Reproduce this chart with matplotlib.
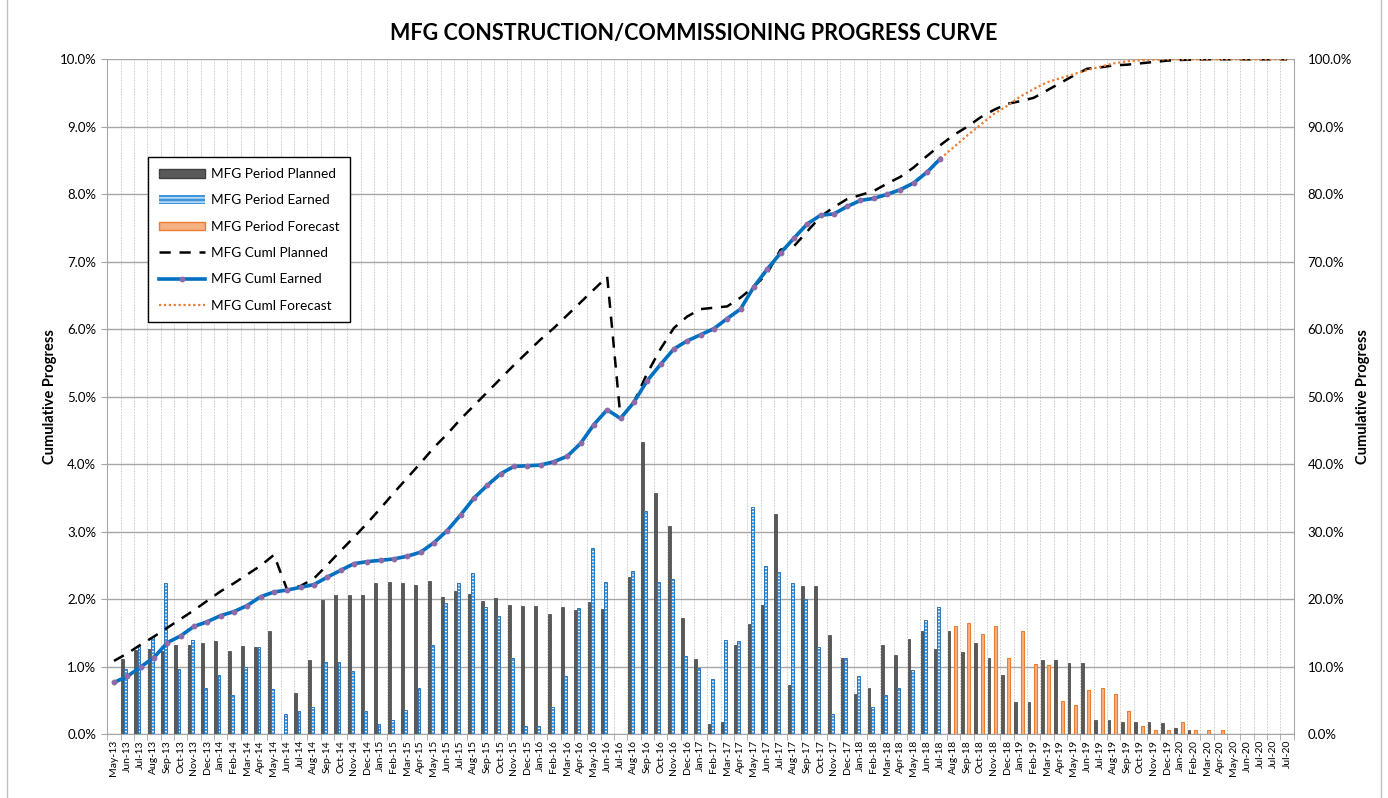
import numpy as np
import matplotlib.pyplot as plt
from matplotlib.patches import Patch, Rectangle
from matplotlib.lines import Line2D

plt.rcParams['font.family'] = ['Lato', 'DejaVu Sans']
plt.rcParams['hatch.linewidth'] = 0.8

# month categories (last three are repeated in the source sheet)
months = ['May-13', 'Jun-13', 'Jul-13', 'Aug-13', 'Sep-13', 'Oct-13', 'Nov-13', 'Dec-13',
          'Jan-14', 'Feb-14', 'Mar-14', 'Apr-14', 'May-14', 'Jun-14', 'Jul-14', 'Aug-14',
          'Sep-14', 'Oct-14', 'Nov-14', 'Dec-14', 'Jan-15', 'Feb-15', 'Mar-15', 'Apr-15',
          'May-15', 'Jun-15', 'Jul-15', 'Aug-15', 'Sep-15', 'Oct-15', 'Nov-15', 'Dec-15',
          'Jan-16', 'Feb-16', 'Mar-16', 'Apr-16', 'May-16', 'Jun-16', 'Jul-16', 'Aug-16',
          'Sep-16', 'Oct-16', 'Nov-16', 'Dec-16', 'Jan-17', 'Feb-17', 'Mar-17', 'Apr-17',
          'May-17', 'Jun-17', 'Jul-17', 'Aug-17', 'Sep-17', 'Oct-17', 'Nov-17', 'Dec-17',
          'Jan-18', 'Feb-18', 'Mar-18', 'Apr-18', 'May-18', 'Jun-18', 'Jul-18', 'Aug-18',
          'Sep-18', 'Oct-18', 'Nov-18', 'Dec-18', 'Jan-19', 'Feb-19', 'Mar-19', 'Apr-19',
          'May-19', 'Jun-19', 'Jul-19', 'Aug-19', 'Sep-19', 'Oct-19', 'Nov-19', 'Dec-19',
          'Jan-20', 'Feb-20', 'Mar-20', 'Apr-20', 'May-20', 'Jun-20', 'Jul-20', 'Jul-20',
          'Jul-20']

# period values, % per month (left axis)
period_planned = [0, 1.12, 1.25, 1.27, 1.24, 1.33, 1.32, 1.36, 1.39, 1.23, 1.31, 1.30, 1.54,
                  0, 0.61, 1.10, 1.99, 2.06, 2.06, 2.06, 2.24, 2.26, 2.24, 2.22, 2.28, 2.04,
                  2.13, 2.08, 1.98, 2.02, 1.92, 1.91, 1.91, 1.78, 1.89, 1.84, 1.96, 1.86, 0,
                  2.33, 4.33, 3.58, 3.09, 1.72, 1.12, 0.16, 0.19, 1.33, 1.64, 1.92, 3.26, 0.73,
                  2.20, 2.20, 1.48, 1.13, 0.60, 0.69, 1.33, 1.18, 1.42, 1.54, 1.26, 1.54, 1.22,
                  1.35, 1.13, 0.88, 0.48, 0.48, 1.11, 1.11, 1.06, 1.06, 0.22, 0.22, 0.19, 0.19,
                  0.19, 0.17, 0.10, 0.07, 0.01, 0.01, 0.005, 0, 0, 0, 0]
period_earned = [0, 0.97, 1.31, 1.44, 2.25, 0.97, 1.40, 0.69, 0.88, 0.59, 1.00, 1.29, 0.68,
                 0.31, 0.35, 0.40, 1.07, 1.08, 0.94, 0.35, 0.15, 0.21, 0.36, 0.69, 1.33, 1.95,
                 2.24, 2.39, 1.89, 1.76, 1.13, 0.13, 0.13, 0.40, 0.87, 1.87, 2.76, 2.26, 0,
                 2.42, 3.31, 2.26, 2.30, 1.16, 0.99, 0.82, 1.40, 1.39, 3.37, 2.50, 2.41, 2.25,
                 2.01, 1.30, 0.30, 1.13, 0.87, 0.40, 0.59, 0.69, 0.95, 1.69, 1.89]
period_forecast = [1.60, 1.65, 1.49, 1.60, 1.13, 1.54, 1.05, 1.03, 0.50, 0.44, 0.66, 0.69,
                   0.60, 0.35, 0.13, 0.07, 0.07, 0.19, 0.07, 0.07, 0.07]   # Aug-18 .. Apr-20

# cumulative values, % (right axis)
cum_planned = [10.9, 12.0, 13.3, 14.5, 15.8, 17.1, 18.4, 19.8, 21.2, 22.4, 23.7, 25.0, 26.6,
               21.4, 22.0, 23.1, 25.1, 27.2, 29.2, 31.3, 33.5, 35.8, 38.0, 40.2, 42.5, 44.5,
               46.7, 48.7, 50.7, 52.7, 54.7, 56.6, 58.5, 60.2, 62.1, 64.0, 65.9, 67.8, 46.9,
               49.2, 53.5, 57.1, 60.2, 61.9, 63.0, 63.2, 63.4, 64.7, 66.3, 68.3, 71.8, 72.3,
               74.5, 76.7, 78.1, 79.3, 79.9, 80.5, 81.6, 82.6, 84.0, 85.7, 87.3, 88.8, 90.0,
               91.4, 92.5, 93.4, 93.8, 94.3, 95.4, 96.5, 97.6, 98.6, 98.8, 99.1, 99.2, 99.4,
               99.6, 99.8, 99.9, 99.95, 100, 100, 100, 100, 100, 100, 100]
cum_earned = [7.7, 8.6, 10.0, 11.4, 13.6, 14.6, 16.0, 16.7, 17.6, 18.2, 19.1, 20.4, 21.1,
              21.4, 21.8, 22.2, 23.3, 24.3, 25.3, 25.6, 25.8, 26.0, 26.4, 27.0, 28.4, 30.2,
              32.5, 35.0, 36.9, 38.6, 39.7, 39.8, 39.9, 40.4, 41.2, 43.1, 45.9, 48.1, 46.8,
              49.2, 52.4, 54.8, 57.1, 58.3, 59.2, 60.1, 61.6, 63.0, 66.3, 68.9, 71.3, 73.5,
              75.6, 76.9, 77.1, 78.2, 79.1, 79.4, 80.0, 80.7, 81.7, 83.3, 85.3]
cum_forecast = [85.3, 87.0, 88.7, 90.3, 91.9, 93.1, 94.5, 95.6, 96.6, 97.2, 97.8, 98.4, 98.9,
                99.4, 99.7, 99.85, 99.95, 100, 100, 100, 100, 100, 100, 100, 100, 100, 100]  # Jul-18 on

n = len(months)
x = np.arange(n)
x_earned = x[:len(period_earned)]
x_fc = x[63:63 + len(period_forecast)]
x_cum_fc = x[62:62 + len(cum_forecast)]

fig = plt.figure(figsize=(13.88, 7.98), dpi=100)
ax = fig.add_axes([0.0773, 0.0796, 0.8548, 0.8461])
ax2 = ax.twinx()

w = 0.22
ax.bar(x - 0.36, period_planned, w, color='#595959', edgecolor='#404040', linewidth=0.5, zorder=3)
ax.bar(x_earned - 0.12, period_earned, w, color='#3d95dd', edgecolor='white', hatch='-----',
       linewidth=0, zorder=3)
ax.bar(x_earned - 0.12, period_earned, w, fill=False, edgecolor='#2e75b6', linewidth=0.7, zorder=4)
ax.bar(x_fc + 0.13, period_forecast, w, color='#f4b183', edgecolor='#ed7d31', linewidth=0.8, zorder=3)

ax2.plot(x, cum_planned, color='black', linestyle=(0, (4.5, 3.5)), linewidth=1.8, zorder=5)
ax2.plot(x_cum_fc, cum_forecast, color='#ed7d31', linestyle=(0, (1, 1.2)), linewidth=1.6, zorder=5)
ax2.plot(x_earned, cum_earned, color='#0070c0', linewidth=2.6, marker='o', markersize=3.2,
         markerfacecolor='#8f6aa8', markeredgecolor='#8f6aa8', zorder=6)

# axes and grid
ax.set_xlim(-0.5, n - 0.5)
ax.set_ylim(0, 10)
ax2.set_ylim(0, 100)
ax.set_yticks(np.arange(0, 10.1, 1))
ax.set_yticklabels(['%.1f%%' % v for v in np.arange(0, 10.1, 1)], fontsize=9.5)
ax2.set_yticks(np.arange(0, 101, 10))
ax2.set_yticklabels(['%.1f%%' % v for v in np.arange(0, 101, 10)], fontsize=9.5)
ax.set_xticks(x)
ax.set_xticklabels(months, rotation=90, fontsize=7.5)
ax.set_xticks(np.arange(-0.5, n, 1), minor=True)
ax.tick_params(axis='x', which='major', length=0, pad=4)
ax.tick_params(axis='x', which='minor', length=4, color='#a6a6a6')
ax.tick_params(axis='y', length=4, color='#a6a6a6', pad=4)
ax2.tick_params(axis='y', length=0, pad=10)
ax.grid(axis='y', which='major', color='#a6a6a6', linewidth=1.0, zorder=0)
ax.grid(axis='x', which='minor', color='#c8c8c8', linewidth=0.6, linestyle=(0, (2, 1.5)), zorder=0)
for s in ['top', 'right']:
    ax.spines[s].set_visible(False)
for s in ['top', 'left', 'bottom']:
    ax2.spines[s].set_visible(False)
ax.spines['left'].set_color('#a6a6a6')
ax.spines['bottom'].set_color('#a6a6a6')
ax2.spines['right'].set_color('#a6a6a6')

ax.set_ylabel('Cumulative Progress', fontsize=10.5, fontweight='bold', labelpad=2)
ax2.set_ylabel('Cumulative Progress', fontsize=10.5, fontweight='bold', labelpad=3)
fig.text(0.5, 0.958, 'MFG CONSTRUCTION/COMMISSIONING PROGRESS CURVE', ha='center', va='center',
         fontsize=15.5, fontweight='bold')

# legend
handles = [
    Patch(facecolor='#595959', edgecolor='#404040'),
    Patch(facecolor='#3d95dd', edgecolor='white', hatch='----', linewidth=0),
    Patch(facecolor='#f4b183', edgecolor='#ed7d31'),
    Line2D([], [], color='black', linestyle=(0, (4.5, 3.5)), linewidth=1.8),
    Line2D([], [], color='#0070c0', linewidth=2.6, marker='o', markersize=3.2,
           markerfacecolor='#8f6aa8', markeredgecolor='#8f6aa8'),
    Line2D([], [], color='#ed7d31', linestyle=(0, (1, 1.2)), linewidth=1.6),
]
labels = ['MFG Period Planned', 'MFG Period Earned', 'MFG Period Forecast',
          'MFG Cuml Planned', 'MFG Cuml Earned', 'MFG Cuml Forecast']
leg = ax2.legend(handles, labels, loc='upper left', bbox_to_anchor=(0.0343, 0.855), fontsize=9.8,
                 frameon=True, fancybox=False, edgecolor='black', framealpha=1,
                 handlelength=3.4, handleheight=0.6, labelspacing=1.05, borderpad=0.8,
                 handletextpad=0.4, borderaxespad=0)
leg.get_frame().set_linewidth(1.0)

# outer chart border
fig.patches.append(Rectangle((7 / 1388, -0.01), 1 - 14 / 1388, 1.02, transform=fig.transFigure,
                             fill=False, edgecolor='#bfbfbf', linewidth=1))

fig.savefig('out.png', dpi=100)
